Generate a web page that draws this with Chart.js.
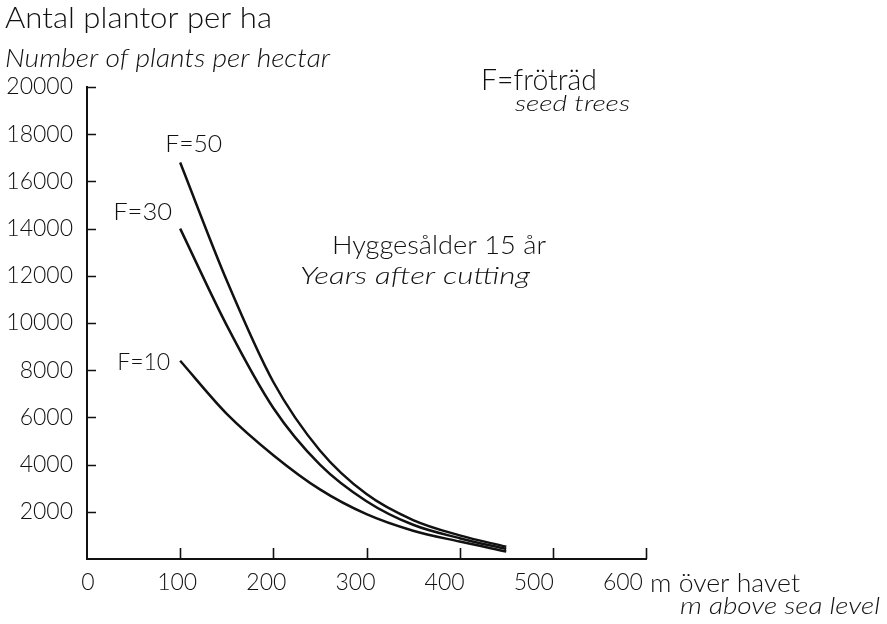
<!DOCTYPE html>
<html>
<head>
<meta charset="utf-8">
<script src="https://cdn.jsdelivr.net/npm/chart.js@4"></script>
<style>
  html, body { margin: 0; padding: 0; background: #fff; }
  #wrap { width: 887px; height: 624px; position: relative; }
</style>
</head>
<body>
<div id="wrap"><canvas id="plants"></canvas></div>
<script>
// Plants per hectare against altitude, 15 years after cutting
var elevation = [100, 150, 200, 250, 300, 350, 400, 450];
var plantsF50 = [16800, 11800, 7500, 4600, 2750, 1650, 1000, 520];
var plantsF30 = [14000, 9900, 6400, 4000, 2450, 1450, 880, 420];
var plantsF10 = [8400, 6150, 4400, 2950, 1900, 1200, 740, 320];
var seriesNames = ["F=50", "F=30", "F=10"];

var xTicks = [0, 100, 200, 300, 400, 500, 600];
var yTicks = [2000, 4000, 6000, 8000, 10000, 12000, 14000, 16000, 18000, 20000];

var upright = '"Lato", "DejaVu Sans", sans-serif';
var ink = "#111";

function points(ys) {
  return elevation.map(function(x, i) {
    return { x: x, y: ys[i] };
  });
}

function makeSet(label, ys) {
  return {
    label: label,
    data: points(ys),
    borderColor: ink,
    borderWidth: 2.5,
    pointRadius: 0,
    fill: false,
    cubicInterpolationMode: "monotone"
  };
}

// narrow lettering: pick the size for height, squeeze sideways to the width
function fitText(c, text, x, y, width, size, style) {
  c.font = style + " " + size + "px " + upright;
  var w = c.measureText(text).width;
  c.save();
  c.translate(x, y);
  c.scale(width / w, 1);
  c.fillText(text, 0, 0);
  c.restore();
}

// ticks are drawn inward from the axis lines, not outward
var inwardTicks = {
  id: "inwardTicks",
  afterDraw: function(chart) {
    var c = chart.ctx;
    var xs = chart.scales.x;
    var ys = chart.scales.y;
    var area = chart.chartArea;
    c.save();
    c.strokeStyle = ink;
    c.lineWidth = 1.6;
    c.beginPath();
    yTicks.forEach(function(v) {
      var py = Math.round(ys.getPixelForValue(v)) + 0.5;
      c.moveTo(area.left, py);
      c.lineTo(area.left + 9, py);
    });
    xTicks.forEach(function(v) {
      if (v === 0) return;
      var px = Math.round(xs.getPixelForValue(v)) + 0.5;
      c.moveTo(px, area.bottom);
      c.lineTo(px, area.bottom - 11);
    });
    c.stroke();
    c.restore();
  }
};

// axis titles and curve labels
var lettering = {
  id: "lettering",
  afterDraw: function(chart) {
    var c = chart.ctx;
    var xs = chart.scales.x;
    var ys = chart.scales.y;
    c.save();
    c.fillStyle = ink;
    c.textBaseline = "alphabetic";
    c.textAlign = "left";

    fitText(c, "Antal plantor per ha", 5, 28, 267, 30, "300");
    fitText(c, "Number of plants per hectar", 5, 67, 325, 25, "italic 300");

    fitText(c, "F=fröträd", 481, 90, 116, 29, "300");
    fitText(c, "seed trees", 515, 111, 115, 21, "italic 300");

    fitText(c, "Hyggesålder 15 år", 332, 254, 214, 26, "300");
    fitText(c, "Years after cutting", 300, 284, 230, 24, "italic 300");

    fitText(c, "m över havet", 650, 592, 150, 26, "300");
    fitText(c, "m above sea level", 680, 614, 200, 24, "italic 300");

    // curve names sit next to the first point of each curve
    var starts = [plantsF50[0], plantsF30[0], plantsF10[0]];
    var shifts = [[-15, -11], [-67, -9], [-63, 9]];
    var widths = [57, 59, 53];
    seriesNames.forEach(function(name, i) {
      var px = xs.getPixelForValue(elevation[0]) + shifts[i][0];
      var py = ys.getPixelForValue(starts[i]) + shifts[i][1];
      fitText(c, name, px, py, widths[i], 23, "300");
    });
    c.restore();
  }
};

new Chart(document.getElementById("plants"), {
  type: "line",
  data: {
    datasets: [
      makeSet(seriesNames[0], plantsF50),
      makeSet(seriesNames[1], plantsF30),
      makeSet(seriesNames[2], plantsF10)
    ]
  },
  options: {
    responsive: true,
    maintainAspectRatio: false,
    animation: false,
    layout: { padding: { top: 87, right: 241, left: 0, bottom: 0 } },
    plugins: {
      legend: { display: false },
      tooltip: { enabled: false }
    },
    scales: {
      x: {
        type: "linear",
        min: 0,
        max: 600,
        afterBuildTicks: function(s) {
          s.ticks = xTicks.map(function(v) { return { value: v }; });
        },
        afterFit: function(s) { s.height = 2; },
        grid: { display: false, drawTicks: false },
        border: { display: true, color: ink, width: 2 },
        ticks: { display: false }
      },
      // the printed scale numbers run a little tighter than the tick marks
      xLabels: {
        type: "linear",
        position: "bottom",
        min: 0,
        max: 627,
        afterBuildTicks: function(s) {
          s.ticks = xTicks.map(function(v) { return { value: v }; });
        },
        afterFit: function(s) { s.height = 63; },
        grid: { display: false, drawTicks: false },
        border: { display: false },
        ticks: {
          color: ink,
          padding: 8,
          maxRotation: 0,
          labelOffset: 1,
          callback: function(v) { return String(v); },
          font: { family: upright, size: 23, weight: "300" }
        }
      },
      y: {
        type: "linear",
        min: 0,
        max: 20000,
        afterBuildTicks: function(s) {
          s.ticks = yTicks.map(function(v) { return { value: v }; });
        },
        afterFit: function(s) { s.width = 87; },
        grid: { display: false, drawTicks: false },
        border: { display: true, color: ink, width: 2 },
        ticks: {
          color: ink,
          padding: 14,
          callback: function(v) { return String(v); },
          font: { family: upright, size: 23, weight: "300" }
        }
      }
    }
  },
  plugins: [inwardTicks, lettering]
});
</script>
</body>
</html>
